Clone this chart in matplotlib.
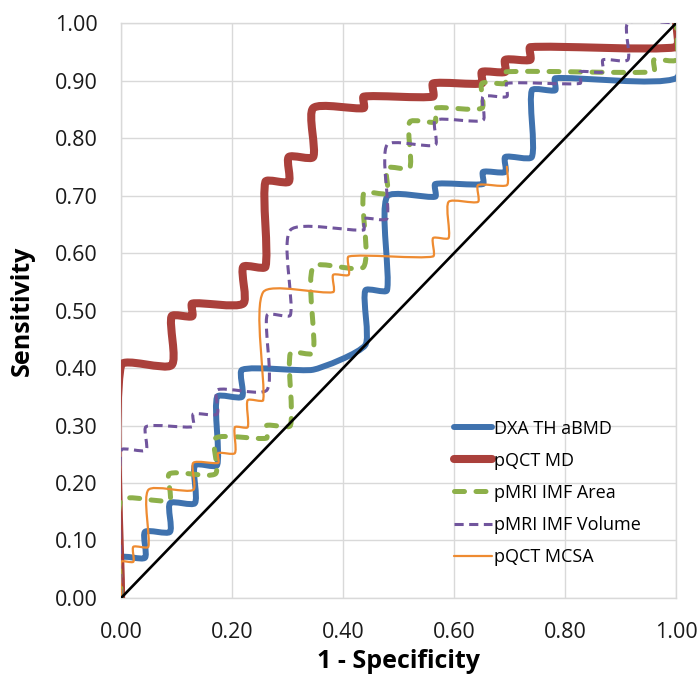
import numpy as np
import matplotlib
matplotlib.use("Agg")
import matplotlib.pyplot as plt
from matplotlib.path import Path
from matplotlib.patches import PathPatch
from matplotlib.lines import Line2D

plt.rcParams['font.family'] = ['Open Sans', 'DejaVu Sans']

# ROC curve vertices (1 - specificity, sensitivity)
dxa_fpr = [0, 0, 0.043, 0.043, 0.088, 0.088, 0.133, 0.133, 0.173, 0.173, 0.218, 0.218,
           0.346, 0.44, 0.44, 0.479, 0.479, 0.566, 0.566, 0.652, 0.652, 0.692, 0.692,
           0.74, 0.74, 0.782, 0.782, 1.0, 1.0]
dxa_tpr = [0, 0.070, 0.070, 0.115, 0.115, 0.165, 0.165, 0.231, 0.231, 0.35, 0.35, 0.397,
           0.397, 0.44, 0.535, 0.535, 0.698, 0.698, 0.72, 0.72, 0.741, 0.741, 0.767,
           0.767, 0.883, 0.883, 0.904, 0.904, 1.0]

md_fpr = [0, 0, 0.091, 0.091, 0.128, 0.128, 0.22, 0.22, 0.26, 0.26, 0.302, 0.302, 0.346,
          0.346, 0.437, 0.437, 0.562, 0.562, 0.65, 0.65, 0.692, 0.692, 0.737, 0.737, 1.0, 1.0]
md_tpr = [0, 0.405, 0.405, 0.49, 0.49, 0.512, 0.512, 0.576, 0.576, 0.724, 0.724, 0.767,
          0.767, 0.852, 0.852, 0.872, 0.872, 0.895, 0.895, 0.915, 0.915, 0.936, 0.936,
          0.958, 0.958, 1.0]

area_fpr = [0, 0, 0.087, 0.087, 0.17, 0.17, 0.262, 0.262, 0.305, 0.305, 0.346, 0.346,
            0.437, 0.437, 0.479, 0.479, 0.52, 0.52, 0.566, 0.566, 0.65, 0.65, 0.692,
            0.692, 0.96, 0.96, 1.0, 1.0]
area_tpr = [0, 0.17, 0.17, 0.216, 0.216, 0.278, 0.278, 0.30, 0.30, 0.426, 0.426, 0.576,
            0.576, 0.704, 0.704, 0.748, 0.748, 0.828, 0.828, 0.852, 0.852, 0.895, 0.895,
            0.915, 0.915, 0.936, 0.936, 1.0]

vol_fpr = [0, 0, 0.045, 0.045, 0.13, 0.13, 0.173, 0.173, 0.263, 0.263, 0.305, 0.305,
           0.437, 0.437, 0.479, 0.479, 0.566, 0.566, 0.652, 0.652, 0.695, 0.695, 0.827,
           0.827, 0.868, 0.868, 0.913, 0.913, 1.0]
vol_tpr = [0, 0.257, 0.257, 0.298, 0.298, 0.32, 0.32, 0.362, 0.362, 0.492, 0.492, 0.64,
           0.64, 0.66, 0.66, 0.788, 0.788, 0.831, 0.831, 0.872, 0.872, 0.895, 0.895,
           0.915, 0.915, 0.936, 0.936, 1.0, 1.0]

mcsa_fpr = [0, 0, 0.022, 0.022, 0.049, 0.049, 0.13, 0.13, 0.175, 0.175, 0.205, 0.205,
            0.228, 0.228, 0.256, 0.256, 0.382, 0.382, 0.41, 0.41, 0.562, 0.562, 0.59,
            0.59, 0.643, 0.643, 0.695, 0.695]
mcsa_tpr = [0, 0.063, 0.063, 0.089, 0.089, 0.188, 0.188, 0.235, 0.235, 0.252, 0.252,
            0.297, 0.297, 0.344, 0.344, 0.532, 0.532, 0.562, 0.562, 0.594, 0.594, 0.626,
            0.626, 0.689, 0.689, 0.718, 0.718, 0.75]

labels = ["DXA TH aBMD", "pQCT MD", "pMRI IMF Area", "pMRI IMF Volume", "pQCT MCSA"]
x_ticks = [0.0, 0.2, 0.4, 0.6, 0.8, 1.0]
y_ticks = [0.0, 0.1, 0.2, 0.3, 0.4, 0.5, 0.6, 0.7, 0.8, 0.9, 1.0]

# plot area is about 555 x 575 px, smoothing is worked out in that space
SX, SY = 555.0, 575.0


def smooth_path(xs, ys):
    # smoothed line: Bezier segments, control arm never longer than 1/6 of its own segment
    pts = np.column_stack([np.asarray(xs) * SX, np.asarray(ys) * SY]).astype(float)
    n = len(pts)
    verts = [pts[0]]
    codes = [Path.MOVETO]
    for i in range(n - 1):
        p0 = pts[i - 1] if i > 0 else pts[i]
        p1 = pts[i]
        p2 = pts[i + 1]
        p3 = pts[i + 2] if i + 2 < n else pts[i + 1]
        d12 = np.hypot(*(p2 - p1))
        d02 = np.hypot(*(p2 - p0))
        d13 = np.hypot(*(p3 - p1))
        f0 = min(1.0, d12 / d02) / 6 if d02 > 0 else 0
        f3 = min(1.0, d12 / d13) / 6 if d13 > 0 else 0
        verts += [p1 + f0 * (p2 - p0), p2 - f3 * (p3 - p1), p2]
        codes += [Path.CURVE4] * 3
    verts = np.array(verts) / [SX, SY]
    return Path(verts, codes)


styles = [
    dict(color='#3F72AE', lw=4.3, ls='-', capstyle='round'),
    dict(color='#AA403B', lw=5.8, ls='-', capstyle='round'),
    dict(color='#8DB04A', lw=3.6, ls=(0, (2.0, 2.3)), capstyle='round'),
    dict(color='#71559D', lw=2.2, ls=(0, (3.0, 1.8)), capstyle='butt'),
    dict(color='#EE8B31', lw=1.6, ls='-', capstyle='round'),
]
series = [(dxa_fpr, dxa_tpr), (md_fpr, md_tpr), (area_fpr, area_tpr),
          (vol_fpr, vol_tpr), (mcsa_fpr, mcsa_tpr)]

fig = plt.figure(figsize=(7.0, 6.77), dpi=100)
ax = fig.add_axes([0.173, 0.1167, 0.793, 0.8493])

handles = []
for (xs, ys), st, lab in zip(series, styles, labels):
    patch = PathPatch(smooth_path(xs, ys), fill=False, edgecolor=st['color'],
                      linewidth=st['lw'], linestyle=st['ls'], capstyle=st['capstyle'],
                      joinstyle='round', zorder=3)
    ax.add_patch(patch)
    handles.append(Line2D([], [], color=st['color'], lw=st['lw'], ls=st['ls'],
                          dash_capstyle=st['capstyle'], solid_capstyle='round'))

ax.plot([0, 1], [0, 1], color='black', lw=1.9, zorder=4)

ax.set_xlim(0, 1)
ax.set_ylim(0, 1)
ax.set_xticks(x_ticks)
ax.set_yticks(y_ticks)
ax.set_xticklabels([f"{t:.2f}" for t in x_ticks])
ax.set_yticklabels([f"{t:.2f}" for t in y_ticks])
ax.tick_params(length=0, labelsize=15.5, labelcolor='#1a1a1a', pad=17)
ax.grid(True, color='#D9D9D9', lw=1.0)
ax.set_axisbelow(True)
for sp in ax.spines.values():
    sp.set_color('#D9D9D9')
    sp.set_linewidth(1.0)

ax.set_xlabel("1 - Specificity", fontsize=18, fontweight='bold')
ax.set_ylabel("Sensitivity", fontsize=18, fontweight='bold')
ax.xaxis.set_label_coords(0.5, -0.11)
ax.xaxis.label.set_va('center')
ax.yaxis.set_label_coords(-0.178, 0.5)
ax.yaxis.label.set_va('center')

ax.legend(handles, labels, loc='center left', bbox_to_anchor=(0.6, 0.183),
          frameon=False, fontsize=13, handlelength=2.1, handletextpad=0.12,
          labelspacing=0.78, borderpad=0, borderaxespad=0)

fig.savefig("out.png", dpi=100)
